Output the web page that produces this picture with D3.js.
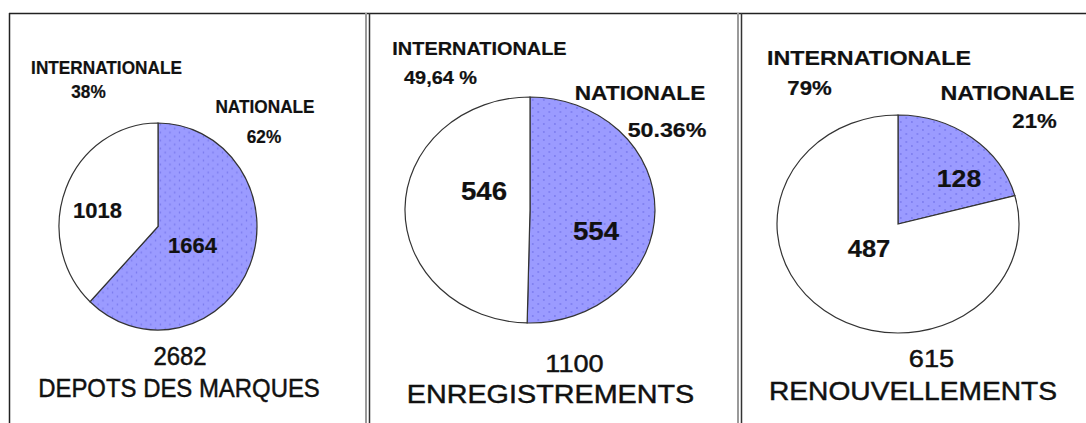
<!DOCTYPE html>
<html>
<head>
<meta charset="utf-8">
<script src="https://cdn.jsdelivr.net/npm/d3@7"></script>
<style>
  body { margin: 0; background: #fff; }
  text { font-family: "Liberation Sans", Arial, sans-serif; fill: #111; }
</style>
</head>
<body>
<div id="chart"></div>
<script>
// chart values
var titles = ["DEPOTS DES MARQUES", "ENREGISTREMENTS", "RENOUVELLEMENTS"];
var totals = [2682, 1100, 615];
var nationale = [1664, 554, 128];
var internationale = [1018, 546, 487];
var pctNationale = ["62%", "50.36%", "21%"];
var pctInternationale = ["38%", "49,64 %", "79%"];

var width = 1086, height = 423;

// layout per panel: pie ellipse + text anchors [x, baseline, font size]
var layout = [
  { cx: 158, cy: 226.5, rx: 99, ry: 103.5,
    interLbl: [106.5, 74, 18], interPct: [88.5, 98, 18],
    natLbl: [265, 113, 18], natPct: [264, 143, 18],
    interVal: [97.5, 218, 23], natVal: [192.5, 253, 23],
    total: [180, 365, 25], title: [179, 397, 25] },
  { cx: 530, cy: 210, rx: 125, ry: 113,
    interLbl: [479.5, 55, 18], interPct: [440.5, 84, 18],
    natLbl: [640, 100, 20.5], natPct: [667, 137, 21],
    interVal: [484, 200, 25], natVal: [596, 240, 25],
    total: [574.5, 372, 24.5], title: [550.5, 403, 26] },
  { cx: 898, cy: 224, rx: 121, ry: 109,
    interLbl: [869, 65, 21], interPct: [809.5, 95, 20],
    natLbl: [1007.5, 100, 21], natPct: [1034.5, 128, 20],
    interVal: [869, 257, 23], natVal: [959, 187, 24],
    total: [931.5, 367, 24.5], title: [913, 400, 25.4] }
];

var svg = d3.select("#chart")
  .append("svg")
    .attr("width", width)
    .attr("height", height);

// dotted fill for the "nationale" slice
var pat = svg.append("defs").append("pattern")
    .attr("id", "dots")
    .attr("patternUnits", "userSpaceOnUse")
    .attr("width", 10)
    .attr("height", 8);
pat.append("rect").attr("width", 10).attr("height", 8).attr("fill", "#9b9bff");
pat.append("circle").attr("cx", 2.5).attr("cy", 2).attr("r", 0.8).attr("fill", "#6a6ae6");
pat.append("circle").attr("cx", 7.5).attr("cy", 6).attr("r", 0.8).attr("fill", "#6a6ae6");

// frame lines
svg.append("line").attr("x1", 9).attr("x2", width).attr("y1", 13.5).attr("y2", 13.5)
  .attr("stroke", "#222").attr("stroke-width", 1.5);
svg.append("line").attr("x1", 9.5).attr("x2", 9.5).attr("y1", 13).attr("y2", height)
  .attr("stroke", "#222").attr("stroke-width", 1.5);
[366, 738].forEach(function(x) {
  svg.append("line").attr("x1", x).attr("x2", x).attr("y1", 13).attr("y2", height)
    .attr("stroke", "#9a9a9a").attr("stroke-width", 2);
  svg.append("line").attr("x1", x + 3.5).attr("x2", x + 3.5).attr("y1", 13).attr("y2", height)
    .attr("stroke", "#333").attr("stroke-width", 1.5);
});

var pie = d3.pie().sort(null).value(function(d) { return d.value; });

layout.forEach(function(L, i) {
  var slices = pie([
    { key: "nat", value: nationale[i] },
    { key: "int", value: internationale[i] }
  ]);
  var arc = d3.arc().innerRadius(0).outerRadius(L.ry);
  var sx = L.rx / L.ry;

  var g = svg.append("g")
    .attr("transform", "translate(" + L.cx + "," + L.cy + ") scale(" + sx + ",1)");

  g.selectAll("path")
    .data(slices)
    .enter()
    .append("path")
      .attr("d", arc)
      .attr("fill", function(d) { return d.data.key === "nat" ? "url(#dots)" : "#fff"; })
      .attr("stroke", "#333")
      .attr("stroke-width", 1.2)
      .attr("vector-effect", "non-scaling-stroke");

  function label(pos, txt, bold) {
    svg.append("text")
      .attr("transform", "translate(" + pos[0] + "," + pos[1] + ") scale(" + sx + ",1)")
      .attr("text-anchor", "middle")
      .style("font-size", pos[2] + "px")
      .style("font-weight", bold ? "bold" : "normal")
      .style("stroke", "#111")
      .style("stroke-width", bold ? 0.2 : 0.45)
      .text(txt);
  }

  label(L.interLbl, "INTERNATIONALE", true);
  label(L.interPct, pctInternationale[i], true);
  label(L.natLbl, "NATIONALE", true);
  label(L.natPct, pctNationale[i], true);
  label(L.interVal, internationale[i], true);
  label(L.natVal, nationale[i], true);
  label(L.total, totals[i], false);
  label(L.title, titles[i], false);
});
</script>
</body>
</html>
